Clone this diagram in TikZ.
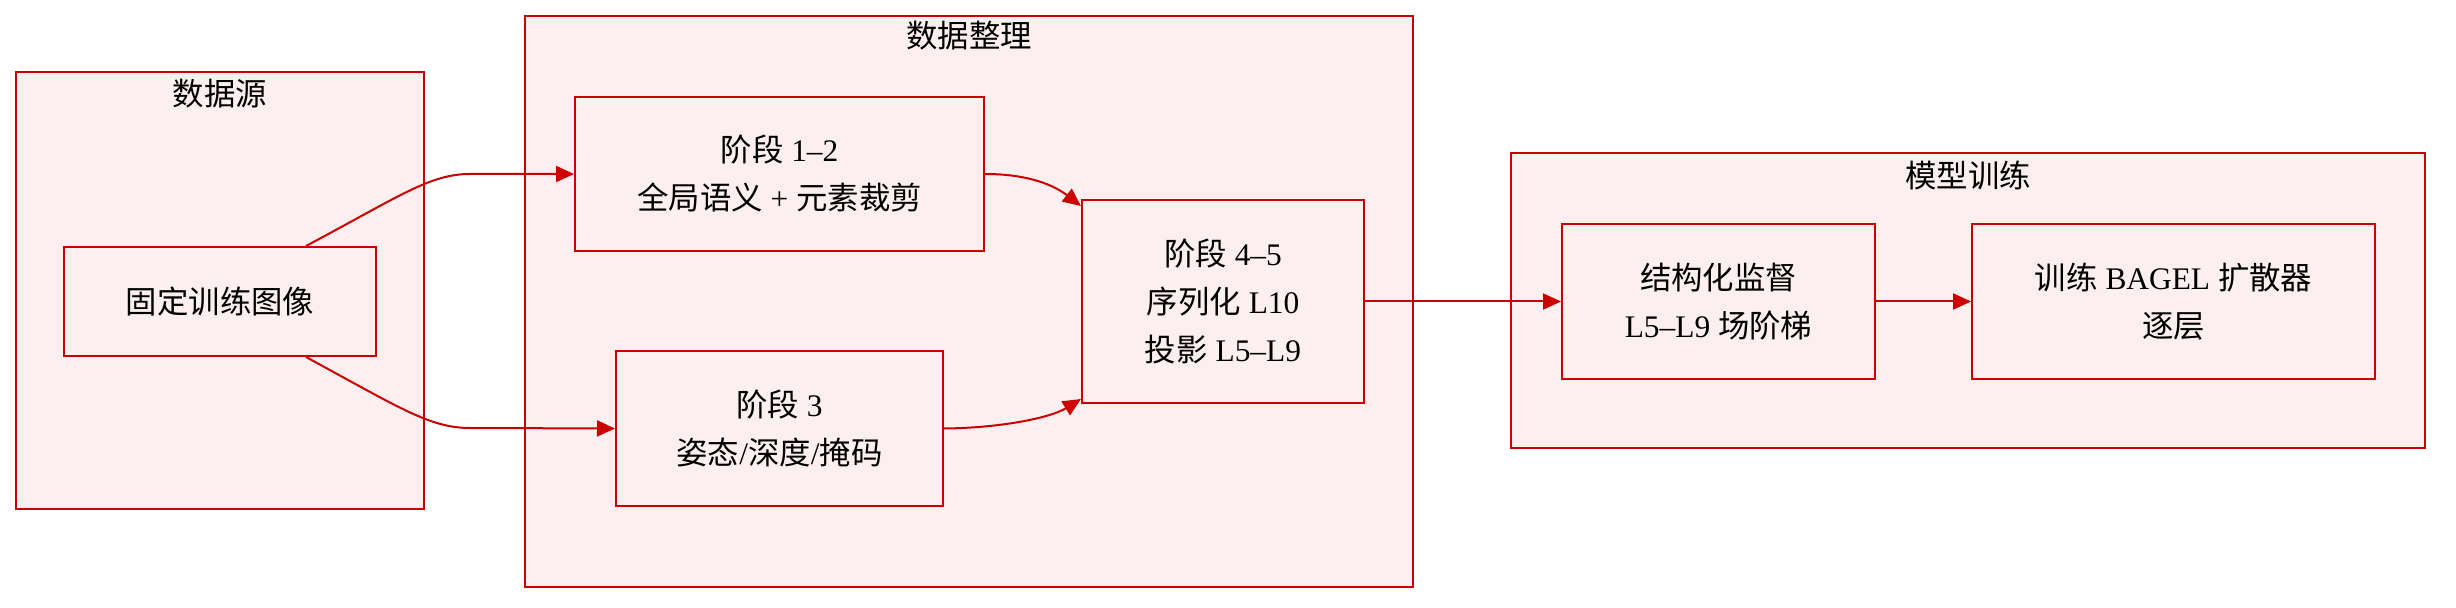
\documentclass[tikz,border=0pt]{standalone}
\usepackage{fontspec}
\setmainfont{Liberation Serif}
\newfontfamily\cjk{Noto Sans CJK SC}
\usetikzlibrary{arrows.meta}
\definecolor{boxred}{RGB}{204,0,0}
\definecolor{boxfill}{RGB}{252,239,239}
\newcommand{\zh}[1]{{\cjk #1}}

\begin{document}
\begin{tikzpicture}[x=0.5pt,y=-0.5pt,
    txt/.style={font=\fontsize{15.7pt}{24pt}\selectfont},
    box/.style={txt,draw=boxred,fill=boxfill,line width=1pt,align=center,inner sep=0pt},
    group/.style={draw=boxred,fill=boxfill,line width=1pt},
    flow/.style={draw=boxred,line width=1pt,-{Triangle[length=9pt,width=8pt]}}]
    \useasboundingbox (0,0) rectangle (2456,608);
    % clusters
    \draw[group] (16,72) rectangle (424,509);
    \draw[group] (525,16) rectangle (1413,587);
    \draw[group] (1511,153) rectangle (2425,448);
    \node[txt] (tsrc) at (220,94) {\zh{数据源}};
    \node[txt] (tprep) at (969,36) {\zh{数据整理}};
    \node[txt] (ttrain) at (1968,175) {\zh{模型训练}};
    % nodes
    \node[box,minimum width=156pt,minimum height=54.5pt] (src) at (220,301.5) {\zh{固定训练图像}};
    \node[box,minimum width=204.5pt,minimum height=77pt] (s12) at (779.5,174) {\zh{阶段} 1–2\\\zh{全局语义} + \zh{元素裁剪}};
    \node[box,minimum width=163.5pt,minimum height=77.5pt] (s3) at (779.5,428.5) {\zh{阶段} 3\\\zh{姿态}/\zh{深度}/\zh{掩码}};
    \node[box,minimum width=141pt,minimum height=101.5pt] (s45) at (1223,301.5) {\zh{阶段} 4–5\\\zh{序列化} L10\\\zh{投影} L5–L9};
    \node[box,minimum width=156.5pt,minimum height=77.5pt] (sup) at (1718.5,301.5) {\zh{结构化监督}\\L5–L9 \zh{场阶梯}};
    \node[box,minimum width=201.5pt,minimum height=77.5pt] (bagel) at (2173.5,301.5) {\zh{训练} BAGEL \zh{扩散器}\\\zh{逐层}};
    % connectors
    \draw[flow] ([xshift=43pt]src.north) .. controls (400,196) and (430,174) .. (470,174) -- (s12.west);
    \draw[flow] ([xshift=43pt]src.south) .. controls (400,408) and (430,428) .. (470,428) -- (s3.west);
    \draw[flow] (s12.east) .. controls (1030,174) and (1055,186) .. ([yshift=-3.5pt]s45.north west);
    \draw[flow] (s3.east) .. controls (1000,428) and (1050,418) .. ([yshift=2.5pt]s45.south west);
    \draw[flow] (s45.east) -- (sup.west);
    \draw[flow] (sup.east) -- (bagel.west);
\end{tikzpicture}
\end{document}
